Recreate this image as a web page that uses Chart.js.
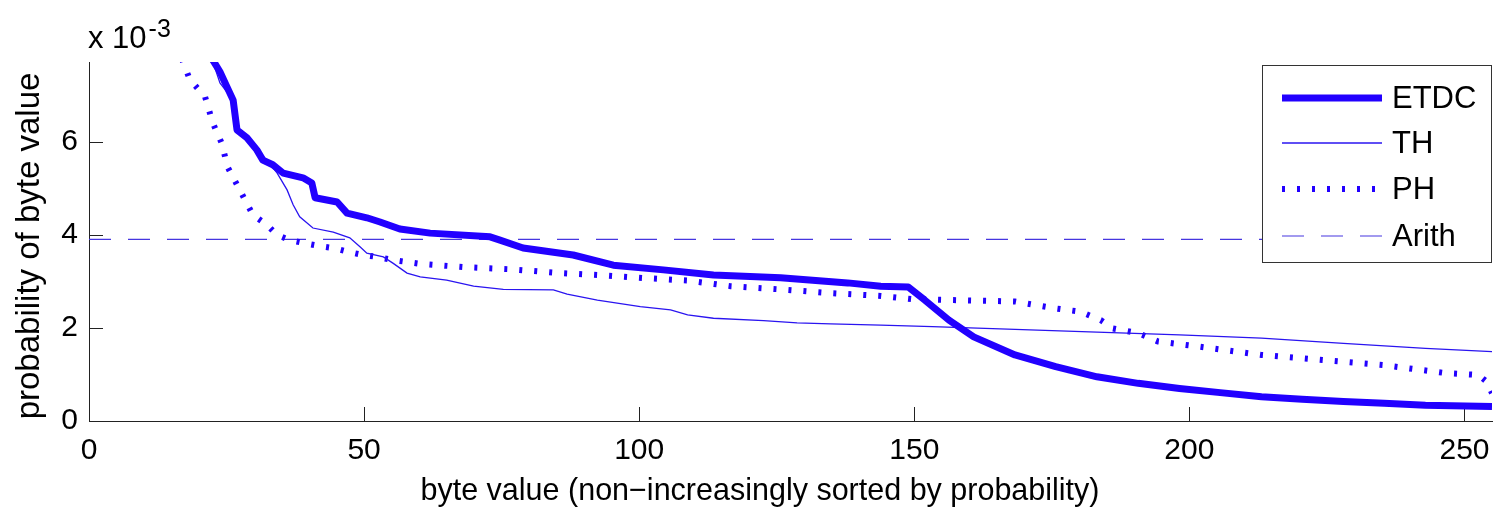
<!DOCTYPE html>
<html><head><meta charset="utf-8">
<script src="https://cdn.jsdelivr.net/npm/chart.js@4.4.1/dist/chart.umd.min.js"></script>
<style>html,body{margin:0;padding:0;background:#fff;overflow:hidden}canvas{display:block}</style>
</head><body>
<canvas id="c" width="1493" height="507"></canvas>
<script>
// ---- data (probabilities in units of 1e-3) ----
const etdcX = [22.3, 23.8, 25.1, 26.2, 26.9, 28.7, 30.5, 31.6, 33.4, 35.3, 38.9, 40.5, 41.1, 45.1, 46.9, 50.5, 52.9, 56.5, 62.0, 72.9, 74.7, 78.9, 88.0, 95.3, 104.4, 113.5, 125.7, 137.9, 143.9, 148.9, 151.9, 156.3, 160.8, 168.3, 175.7, 183.2, 190.7, 198.2, 205.6, 213.1, 220.5, 228.0, 235.4, 242.9, 255];
const etdcY = [7.8, 7.51, 7.18, 6.90, 6.26, 6.09, 5.83, 5.61, 5.51, 5.33, 5.23, 5.12, 4.80, 4.71, 4.47, 4.37, 4.28, 4.13, 4.04, 3.96, 3.89, 3.72, 3.57, 3.35, 3.25, 3.14, 3.08, 2.97, 2.90, 2.88, 2.60, 2.17, 1.81, 1.42, 1.17, 0.95, 0.81, 0.70, 0.61, 0.52, 0.47, 0.42, 0.38, 0.34, 0.31];

const thX = [22.3, 23.8, 26.2, 26.9, 28.3, 30.5, 32.3, 34.2, 36.0, 37.1, 38.3, 40.7, 44.4, 47.4, 49.3, 50.5, 53.5, 55.3, 57.8, 60.2, 65.0, 69.9, 75.3, 84.4, 86.9, 92.4, 100.2, 105.7, 108.8, 113.5, 122.6, 128.7, 134.8, 143.9, 153.3, 168.3, 183.2, 198.2, 213.1, 228.0, 242.9, 255];
const thY = [7.8, 7.27, 6.90, 6.26, 6.11, 5.83, 5.61, 5.33, 4.97, 4.65, 4.39, 4.15, 4.06, 3.94, 3.74, 3.61, 3.53, 3.39, 3.18, 3.10, 3.03, 2.90, 2.83, 2.82, 2.73, 2.60, 2.46, 2.39, 2.28, 2.21, 2.16, 2.11, 2.09, 2.06, 2.03, 1.97, 1.91, 1.85, 1.78, 1.67, 1.56, 1.49];

const phX = [16.9, 18.3, 21.1, 22.5, 24.1, 25.2, 27.4, 29.8, 32.3, 34.2, 36.5, 38.9, 42.0, 44.4, 47.4, 49.8, 52.3, 55.3, 60.2, 68.0, 77.1, 84.4, 92.4, 101.5, 108.8, 116.6, 125.7, 134.8, 143.9, 149.6, 157.1, 168.3, 175.7, 180.2, 183.9, 186.1, 190.7, 194.3, 201.8, 213.1, 224.2, 235.4, 246.6, 252.5, 254.0, 255];
const phY = [7.78, 7.35, 6.97, 6.41, 5.98, 5.46, 4.97, 4.43, 4.22, 4.00, 3.89, 3.83, 3.76, 3.72, 3.63, 3.57, 3.53, 3.46, 3.38, 3.31, 3.26, 3.19, 3.14, 3.07, 3.02, 2.90, 2.83, 2.75, 2.69, 2.62, 2.60, 2.57, 2.42, 2.35, 2.17, 1.99, 1.89, 1.71, 1.60, 1.42, 1.31, 1.20, 1.03, 0.99, 0.85, 0.60];

const arithX = [0, 255];
const arithY = [3.906, 3.906];

const seriesLabels = ['ETDC', 'TH', 'PH', 'Arith'];
const xTickStep = 50;
const yTickStep = 2;
const xRange = [0, 255];
const yRange = [0, 7.72];
const xAxisTitle = 'byte value (non\u2212increasingly sorted by probability)';
const yAxisTitle = 'probability of byte value';
const yMultiplierBase = 'x 10';
const yMultiplierExp = '-3';

const FONT = "'Liberation Sans', Arial, Helvetica, sans-serif";
const BLUE = '#2200ff';

function pts(xs, ys) { return xs.map((x, i) => ({x: x, y: ys[i]})); }

const tickMarks = {
  id: 'tickMarks',
  beforeDatasetsDraw(chart) {
    const {ctx, chartArea: a, scales: {x, y}} = chart;
    ctx.save();
    ctx.strokeStyle = '#222';
    ctx.lineWidth = 1;
    ctx.beginPath();
    x.ticks.forEach(t => {
      const px = Math.round(x.getPixelForValue(t.value)) + 0.5;
      ctx.moveTo(px, a.bottom); ctx.lineTo(px, a.bottom - 14);
    });
    y.ticks.forEach(t => {
      const py = Math.round(y.getPixelForValue(t.value)) + 0.5;
      ctx.moveTo(a.left, py); ctx.lineTo(a.left + 14, py);
    });
    ctx.stroke();
    ctx.restore();
  }
};

const texts = {
  id: 'texts',
  afterDraw(chart) {
    const {ctx} = chart;
    ctx.save();
    ctx.fillStyle = '#000';
    ctx.textBaseline = 'alphabetic';
    // multiplier
    ctx.font = '31px ' + FONT;
    ctx.textAlign = 'left';
    ctx.fillText(yMultiplierBase, 88, 48);
    const w = ctx.measureText(yMultiplierBase).width;
    ctx.font = '25px ' + FONT;
    ctx.fillText(yMultiplierExp, 88 + w + 2, 37);
    // x title
    ctx.font = '30.5px ' + FONT;
    ctx.textAlign = 'center';
    ctx.fillText(xAxisTitle, 760, 500);
    // y title
    ctx.save();
    ctx.translate(39, 246);
    ctx.rotate(-Math.PI / 2);
    ctx.font = '33px ' + FONT;
    ctx.fillText(yAxisTitle, 0, 0);
    ctx.restore();
    ctx.restore();
  }
};

const legendBox = {
  id: 'legendBox',
  afterDatasetsDraw(chart) {
    const ctx = chart.ctx;
    const L = 1262.5, T = 65.5, W = 229, H = 197;
    ctx.save();
    ctx.fillStyle = '#fff';
    ctx.fillRect(L, T, W, H);
    ctx.strokeStyle = '#333';
    ctx.lineWidth = 1;
    ctx.strokeRect(L, T, W, H);
    const rows = [98, 143, 189, 236];
    chart.data.datasets.forEach((ds, i) => {
      const yy = rows[i];
      ctx.strokeStyle = ds.borderColor;
      ctx.lineWidth = ds.borderWidth;
      ctx.setLineDash(ds.borderDash || []);
      ctx.lineCap = 'butt';
      ctx.beginPath();
      ctx.moveTo(1282, yy); ctx.lineTo(1382, yy);
      ctx.stroke();
      ctx.setLineDash([]);
      ctx.fillStyle = '#000';
      ctx.font = '31px ' + FONT;
      ctx.textAlign = 'left';
      ctx.textBaseline = 'middle';
      ctx.fillText(ds.label, 1392, yy + 1);
    });
    ctx.restore();
  }
};

new Chart(document.getElementById('c'), {
  type: 'line',
  data: {
    datasets: [
      {label: seriesLabels[0], data: pts(etdcX, etdcY), borderColor: BLUE, borderWidth: 7, pointRadius: 0, tension: 0, borderJoinStyle: 'round'},
      {label: seriesLabels[1], data: pts(thX, thY), borderColor: '#2a14f0', borderWidth: 1.3, pointRadius: 0, tension: 0},
      {label: seriesLabels[2], data: pts(phX, phY), borderColor: BLUE, borderWidth: 6, borderDash: [3, 12], pointRadius: 0, tension: 0},
      {label: seriesLabels[3], data: pts(arithX, arithY), borderColor: '#4636e0', borderWidth: 1.2, borderDash: [22, 17], pointRadius: 0, tension: 0}
    ]
  },
  options: {
    responsive: false,
    animation: false,
    devicePixelRatio: 1,
    layout: {padding: {left: 0, right: 1, top: 62, bottom: 0}},
    plugins: {legend: {display: false}, tooltip: {enabled: false}},
    scales: {
      x: {
        type: 'linear', min: xRange[0], max: xRange[1],
        grid: {display: true, drawOnChartArea: false, drawTicks: false},
        border: {display: true, color: '#222', width: 1},
        ticks: {stepSize: xTickStep, includeBounds: false, color: '#000', font: {family: FONT, size: 30}, padding: 12, maxRotation: 0},
        afterFit(s) { s.height = 86; s.paddingLeft = 0; s.paddingRight = 0; }
      },
      y: {
        type: 'linear', min: yRange[0], max: yRange[1],
        grid: {display: true, drawOnChartArea: false, drawTicks: false},
        border: {display: true, color: '#222', width: 1},
        ticks: {stepSize: yTickStep, includeBounds: false, color: '#000', font: {family: FONT, size: 30}, padding: 11},
        afterFit(s) { s.width = 89; s.paddingTop = 0; s.paddingBottom = 0; }
      }
    }
  },
  plugins: [tickMarks, legendBox, texts]
});
</script>
</body></html>
